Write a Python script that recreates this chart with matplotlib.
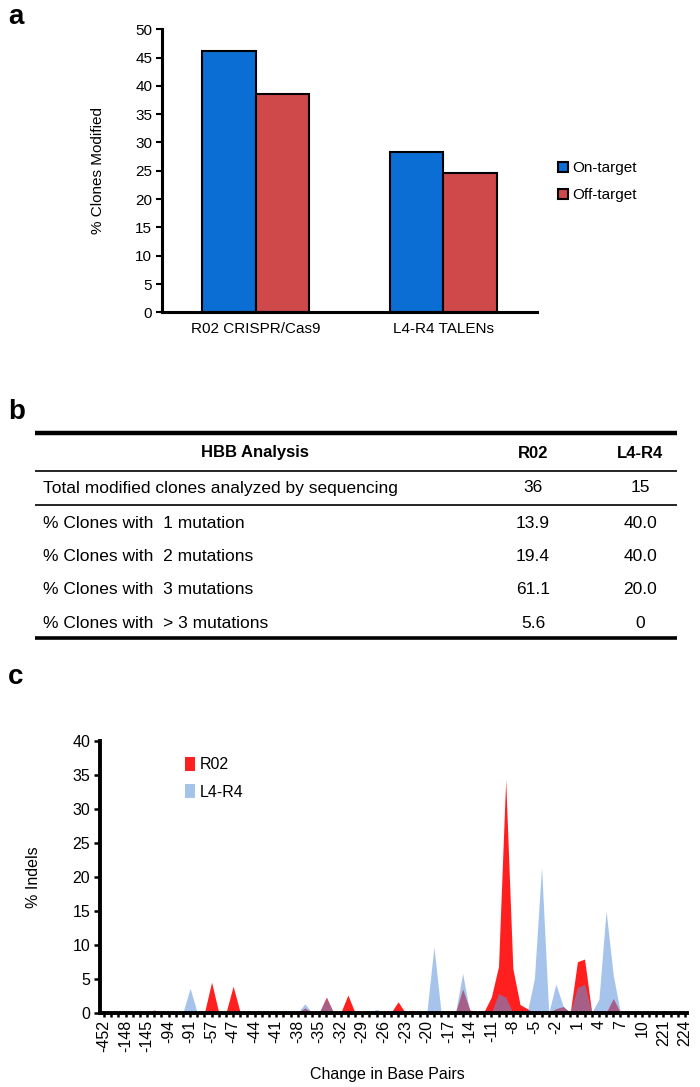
import matplotlib
matplotlib.use("Agg")
import matplotlib.pyplot as plt
import numpy as np
from matplotlib.patches import Patch

plt.rcParams['font.family'] = ['Liberation Sans', 'DejaVu Sans']

# ---- panel a data
nucleases = ['R02 CRISPR/Cas9', 'L4-R4 TALENs']
on_target = [46.2, 28.3]
off_target = [38.5, 24.6]

# ---- panel b data
table_header = ['HBB Analysis', 'R02', 'L4-R4']
row_labels = ['Total modified clones analyzed by sequencing',
              '% Clones with  1 mutation',
              '% Clones with  2 mutations',
              '% Clones with  3 mutations',
              '% Clones with  > 3 mutations']
r02_col = ['36', '13.9', '19.4', '61.1', '5.6']
l4r4_col = ['15', '40.0', '40.0', '20.0', '0']

# ---- panel c data (categories: change in base pairs)
change_bp = [-452, -300, -150, -148, -147, -146, -145, -120, -100, -94,
             -93, -92, -91, -80, -60, -57, -52, -50, -47, -46,
             -45, -44, -43, -42, -41, -40, -39, -38, -37, -36,
             -35, -34, -33, -32, -31, -30, -29, -28, -27, -26,
             -25, -24, -23, -22, -21, -20, -19, -18, -17, -16,
             -15, -14, -13, -12, -11, -10, -9, -8, -7, -6,
             -5, -4, -3, -2, -1, 0, 1, 2, 3, 4,
             5, 6, 7, 8, 9, 10, 12, 15, 221, 222,
             223, 224]
r02_indels = [0.3, 0, 0, 0, 0, 0, 0, 0.4, 0, 0,
              0, 0, 0, 0, 0, 4.5, 0, 0, 3.9, 0,
              0, 0, 0, 0, 0, 0, 0, 0, 0.7, 0,
              0, 2.3, 0, 0, 2.6, 0, 0, 0, 0, 0,
              0, 1.6, 0, 0.35, 0, 0, 0, 0.3, 0, 0,
              3.5, 0.4, 0.15, 0.2, 2.3, 6.8, 34.3, 6.5, 1.2, 0.6,
              0, 0, 0, 0.6, 0.9, 0, 7.5, 7.9, 0, 0,
              0, 2.1, 0, 0, 0, 0, 0, 0, 0.3, 0,
              0, 0]
l4r4_indels = [0, 0, 0, 0, 0, 0, 0, 0, 0, 0,
               0, 0, 3.6, 0, 0, 0, 0, 0, 0, 0,
               0, 0, 0, 0, 0, 0, 0, 0, 1.3, 0,
               0, 2.2, 0, 0, 0, 0, 0, 0, 0.5, 0,
               0, 0, 0, 0, 0, 0, 9.7, 0, 0, 0,
               5.8, 0, 0, 0, 0, 2.8, 2.3, 0, 0, 0,
               5.0, 21.5, 0, 4.2, 1.0, 0, 3.7, 4.2, 0, 2.0,
               15.0, 5.5, 0, 0, 0, 0, 0, 0, 0, 0,
               0, 0]

W, H = 700, 1087
fig = plt.figure(figsize=(W / 100, H / 100), dpi=100)


def box(x0, y0, x1, y1):
    # pixel box (top-left origin) -> figure rect
    return [x0 / W, 1 - y1 / H, (x1 - x0) / W, (y1 - y0) / H]


# ================= panel a
blue = '#0a6ed4'
red = '#d0494a'
ax = fig.add_axes(box(162, 29.3, 537, 312.3))
pos = np.arange(len(nucleases))
bw = 0.285
ax.bar(pos - bw / 2, on_target, bw, color=blue, edgecolor='black', linewidth=1.5, label='On-target')
ax.bar(pos + bw / 2, off_target, bw, color=red, edgecolor='black', linewidth=1.5, label='Off-target')
ax.set_xlim(-0.5, 1.5)
ax.set_ylim(0, 50)
ax.set_yticks(np.arange(0, 51, 5))
ax.set_xticks(pos)
ax.set_xticklabels(nucleases, fontsize=11)
ax.tick_params(axis='x', length=0, pad=7)
ax.tick_params(axis='y', length=4, width=1.5, labelsize=11, pad=3)
for s in ['top', 'right']:
    ax.spines[s].set_visible(False)
for s in ['left', 'bottom']:
    ax.spines[s].set_linewidth(2.2)
ax.set_ylabel('% Clones Modified', fontsize=11)
ax.yaxis.set_label_coords(-0.152, 0.5)
handles = [Patch(facecolor=blue, edgecolor='black', linewidth=1.5),
           Patch(facecolor=red, edgecolor='black', linewidth=1.5)]
fig.legend(handles, ['On-target', 'Off-target'], loc='upper left',
           bbox_to_anchor=(558 / W, 1 - 161 / H), frameon=False, fontsize=11,
           handlelength=0.65, handleheight=0.65, handletextpad=0.3,
           labelspacing=0.85, borderpad=0, borderaxespad=0)
fig.text(8 / W, 1 - 4 / H, 'a', fontsize=20, fontweight='bold', va='top', ha='left')

# ================= panel b
tb = fig.add_axes([0, 0, 1, 1])
tb.set_xlim(0, W)
tb.set_ylim(H, 0)
tb.axis('off')
fig.text(8 / W, 1 - 399 / H, 'b', fontsize=20, fontweight='bold', va='top', ha='left')
x_left, x_right = 35, 677
col_x = [255, 533, 640]
tb.hlines(432.7, x_left, x_right, color='black', lw=3.2)
tb.hlines(471, x_left, x_right, color='black', lw=1.2)
tb.hlines(505, x_left, x_right, color='black', lw=1.2)
tb.hlines(638, x_left, x_right, color='black', lw=2.6)
for j, h in enumerate(table_header):
    tb.text(col_x[j], 453, h, ha='center', va='center', fontsize=12,
            fontweight='bold')
row_y = [488, 523, 556.5, 590, 623]
for i, lab in enumerate(row_labels):
    tb.text(43, row_y[i], lab, ha='left', va='center', fontsize=12.5)
    tb.text(col_x[1], row_y[i], r02_col[i], ha='center', va='center', fontsize=12.5)
    tb.text(col_x[2], row_y[i], l4r4_col[i], ha='center', va='center', fontsize=12.5)

# ================= panel c
fig.text(8 / W, 1 - 664 / H, 'c', fontsize=20, fontweight='bold', va='top', ha='left')
axc = fig.add_axes(box(100, 741, 687, 1012.7))
xi = np.arange(len(change_bp))
red_c = '#ff1f1f'
blue_c = '#5d94dc'
axc.fill_between(xi, r02_indels, color=red_c, lw=0, label='R02')
axc.fill_between(xi, l4r4_indels, color=blue_c, alpha=0.55, lw=0, label='L4-R4')
axc.set_xlim(-0.56, 81.28)
axc.set_ylim(0, 40)
axc.set_yticks(np.arange(0, 41, 5))
axc.set_xticks(xi[::3])
axc.set_xticklabels([str(v) for v in change_bp[::3]], rotation=90, fontsize=11.5)
axc.set_xticks(xi, minor=True)
axc.tick_params(axis='x', which='both', length=3, width=1.8, pad=2)
axc.tick_params(axis='y', length=4, width=1.8, labelsize=11.5, pad=3)
for s in ['top', 'right']:
    axc.spines[s].set_visible(False)
for s in ['left', 'bottom']:
    axc.spines[s].set_linewidth(2.8)
axc.set_ylabel('% Indels', fontsize=11.5)
axc.yaxis.set_label_coords(-0.1, 0.5)
axc.set_xlabel('Change in Base Pairs', fontsize=11.5)
axc.xaxis.set_label_coords(0.49, -0.2)
axc.legend(loc='upper left', bbox_to_anchor=(0.145, 0.94), frameon=False,
           fontsize=11.5, handlelength=0.6, handleheight=0.9, handletextpad=0.3,
           labelspacing=0.75, borderpad=0, borderaxespad=0)

fig.savefig('out.png', dpi=100)
